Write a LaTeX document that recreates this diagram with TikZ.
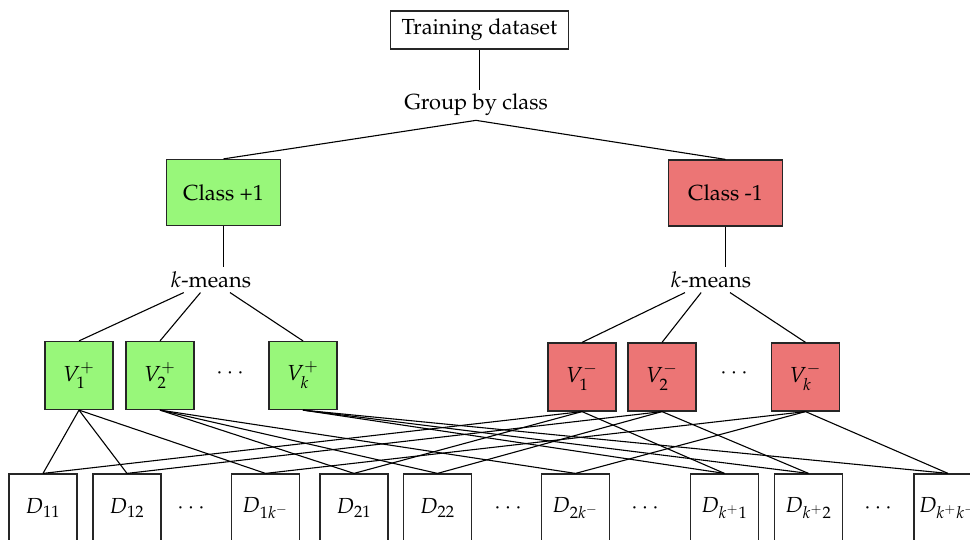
\documentclass[tikz,border=0pt]{standalone}
\usepackage[T1]{fontenc}
\usepackage{mathpazo}

\definecolor{posfill}{RGB}{152,247,122}
\definecolor{negfill}{RGB}{236,117,117}

\tikzset{
  every node/.style={font=\fontsize{10.9}{13}\selectfont, inner sep=2pt},
  link/.style={draw=black, line width=0.55pt},
  framebox/.style={draw=black!85, line width=0.6pt},
  databox/.style={framebox, minimum width=89pt, minimum height=19pt},
  classpos/.style={framebox, fill=posfill, minimum width=57pt, minimum height=33pt},
  classneg/.style={framebox, fill=negfill, minimum width=57pt, minimum height=33pt},
  centpos/.style={framebox, fill=posfill, minimum width=34pt, minimum height=34pt},
  centneg/.style={framebox, fill=negfill, minimum width=34pt, minimum height=34pt},
  subset/.style={framebox, minimum width=34pt, minimum height=34pt},
  plain/.style={inner sep=2pt}
}

\begin{document}
\begin{tikzpicture}[x=0.5pt, y=-0.5pt]
  \useasboundingbox (0,0) rectangle (970,540);
  \clip (0,0) rectangle (970,540);

  % top of the tree
  \node[databox] (train) at (479.5,30) {Training dataset};
  \node[plain] (group) at (476,105) {Group by class};
  \node[classpos] (cp) at (223.5,192.5) {Class +1};
  \node[classneg] (cm) at (725.5,193) {Class -1};

  \node[plain] (kmp) at (211,280) {$k$-means};
  \node[plain] (kmm) at (711,280) {$k$-means};

  % cluster centroids
  \node[centpos] (vp1) at (79,375.5) {$V_1^+$};
  \node[centpos] (vp2) at (160,375.5) {$V_2^+$};
  \node[plain] (vpdots) at (230,373) {$\cdots$};
  \node[centpos] (vpk) at (303,375.5) {$V_k^+$};

  \node[centneg] (vm1) at (582,377) {$V_1^-$};
  \node[centneg] (vm2) at (662,377) {$V_2^-$};
  \node[plain] (vmdots) at (734,373) {$\cdots$};
  \node[centneg] (vmk) at (805.5,377) {$V_k^-$};

  % pairwise subsets
  \node[subset] (d11) at (43,508) {$D_{11}$};
  \node[subset] (d12) at (127,508) {$D_{12}$};
  \node[plain] (dd1) at (191,508) {$\cdots$};
  \node[subset] (d1k) at (265.5,508) {$D_{1k^-}$};
  \node[subset] (d21) at (354,508) {$D_{21}$};
  \node[subset] (d22) at (437.5,508) {$D_{22}$};
  \node[plain] (dd2) at (508,508) {$\cdots$};
  \node[subset] (d2k) at (575.5,508) {$D_{2k^-}$};
  \node[plain] (dd3) at (645,508) {$\cdots$};
  \node[subset] (dk1) at (724.5,508) {$D_{k^+1}$};
  \node[subset] (dk2) at (808.5,508) {$D_{k^+2}$};
  \node[plain] (dd4) at (878,508) {$\cdots$};
  \node[subset] (dkk) at (948,508) {$D_{k^+k^-}$};

  % connectors
  \draw[link] (train.south) -- (train.south |- group.north);
  \draw[link] (group.south) -- (cp.north);
  \draw[link] (group.south) -- (cm.north);
  \draw[link] (cp.south) -- (cp.south |- kmp.north);
  \draw[link] (cm.south) -- (cm.south |- kmm.north);

  \foreach \v in {vp1,vp2,vpk} \draw[link] (kmp) -- (\v.north);
  \foreach \v in {vm1,vm2,vmk} \draw[link] (kmm) -- (\v.north);

  \foreach \d in {d11,d12,d1k} \draw[link] (vp1.south) -- (\d.north);
  \foreach \d in {d21,d22,d2k} \draw[link] (vp2.south) -- (\d.north);
  \foreach \d in {dk1,dk2,dkk} \draw[link] (vpk.south) -- (\d.north);
  \foreach \d in {d11,d21,dk1} \draw[link] (vm1.south) -- (\d.north);
  \foreach \d in {d12,d22,dk2} \draw[link] (vm2.south) -- (\d.north);
  \foreach \d in {d1k,d2k,dkk} \draw[link] (vmk.south) -- (\d.north);
\end{tikzpicture}
\end{document}
